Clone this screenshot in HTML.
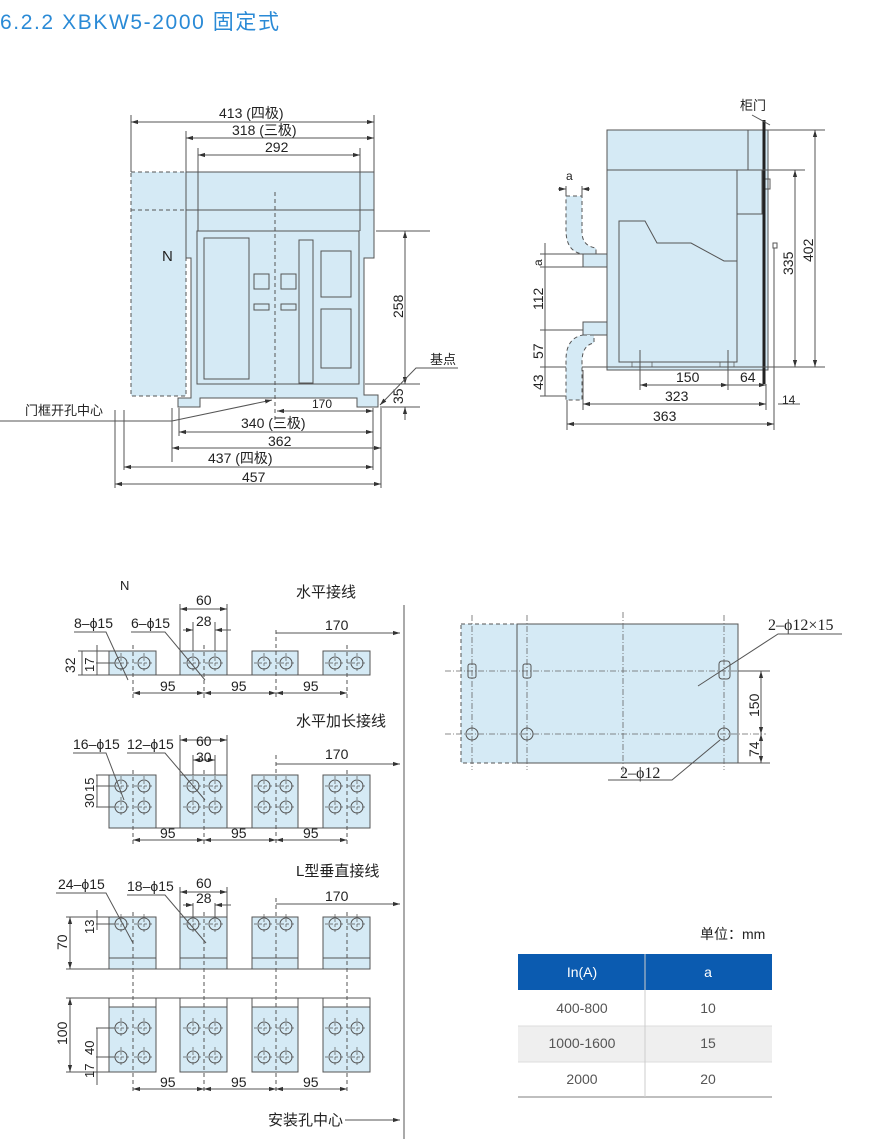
<!DOCTYPE html>
<html><head><meta charset="utf-8"><style>
body{margin:0;background:#fff;}
svg{display:block;font-family:"Liberation Sans","Noto Sans CJK SC",sans-serif;}
.l{stroke:#555;stroke-width:1;fill:none}
.f{fill:#d5eaf5;stroke:#555;stroke-width:1}
.d{stroke:#555;stroke-width:1;fill:none;stroke-dasharray:4 3}
.c{stroke:#666;stroke-width:.8;fill:none;stroke-dasharray:6 2 1 2}
text{fill:#222;font-size:14px}
</style></head><body>
<svg width="882" height="1139" viewBox="0 0 882 1139">
<defs>
<marker id="a" viewBox="0 0 10 10" refX="10" refY="5" markerWidth="7" markerHeight="7" orient="auto-start-reverse"><path d="M0,2 L10,5 L0,8z" fill="#333"/></marker>
<g id="h"><circle r="6" fill="none" stroke="#555"/><line x1="-10" x2="10" y1="0" y2="0" stroke="#555" stroke-width=".7" stroke-dasharray="3 2"/><line y1="-10" y2="10" x1="0" x2="0" stroke="#555" stroke-width=".7" stroke-dasharray="3 2"/></g>
</defs>
<text x="0" y="29" style="font-size:21px;fill:#2a8ad6;letter-spacing:1.6px">6.2.2 XBKW5-2000 固定式</text>

<!-- FRONT VIEW -->
<path class="f" d="M131,172 H186 V396 H131 Z" style="stroke-dasharray:4 3"/>
<path class="f" d="M186,172 H374 V258 H364 V395 H378 V407 H357 V398 H200 V407 H178 V398 H191 V258 H186 Z"/>
<line class="d" x1="131" y1="210" x2="186" y2="210"/>
<line class="l" x1="186" y1="210" x2="374" y2="210"/>
<rect class="l" x="197" y="231" width="162" height="153"/>
<rect class="l" x="204" y="238" width="45" height="141"/>
<rect class="l" x="254" y="274" width="15" height="15"/><rect class="l" x="281" y="274" width="15" height="15"/>
<rect class="l" x="254" y="304" width="15" height="6"/><rect class="l" x="281" y="304" width="15" height="6"/>
<rect class="l" x="299" y="240" width="14" height="143"/>
<rect class="l" x="321" y="251" width="30" height="46"/><rect class="l" x="321" y="309" width="30" height="59"/>
<line class="d" x1="275" y1="192" x2="275" y2="420"/>
<text x="162" y="261" style="font-size:15px">N</text>
<g class="l"><line x1="131" y1="115" x2="131" y2="172"/><line x1="186" y1="131" x2="186" y2="172"/><line x1="198" y1="148" x2="198" y2="231"/><line x1="360" y1="148" x2="360" y2="231"/><line x1="374" y1="115" x2="374" y2="172"/></g>
<line class="l" x1="131" y1="122" x2="374" y2="122" marker-start="url(#a)" marker-end="url(#a)"/>
<line class="l" x1="186" y1="138" x2="374" y2="138" marker-start="url(#a)" marker-end="url(#a)"/>
<line class="l" x1="198" y1="155" x2="360" y2="155" marker-start="url(#a)" marker-end="url(#a)"/>
<text x="219" y="118">413 (四极)</text><text x="232" y="135">318 (三极)</text><text x="265" y="152">292</text>
<line class="l" x1="376" y1="231" x2="430" y2="231"/><line class="l" x1="365" y1="384" x2="420" y2="384"/><line class="l" x1="380" y1="407" x2="420" y2="407"/>
<line class="l" x1="405" y1="231" x2="405" y2="384" marker-start="url(#a)" marker-end="url(#a)"/>
<line class="l" x1="405" y1="372" x2="405" y2="384" marker-end="url(#a)"/><line class="l" x1="405" y1="420" x2="405" y2="407" marker-end="url(#a)"/>
<text transform="translate(403,318) rotate(-90)">258</text>
<text transform="translate(403,404) rotate(-90)">35</text>
<text x="430" y="364" style="font-size:13px">基点</text>
<polyline class="l" points="458,368 416,368 380,405" marker-end="url(#a)"/>
<g class="l"><line x1="115" y1="410" x2="115" y2="488"/><line x1="124" y1="410" x2="124" y2="470"/><line x1="172" y1="408" x2="172" y2="462"/><line x1="179" y1="408" x2="179" y2="436"/><line x1="373" y1="408" x2="373" y2="470"/><line x1="381" y1="408" x2="381" y2="488"/></g>
<line class="l" x1="277" y1="411" x2="373" y2="411" marker-start="url(#a)" marker-end="url(#a)"/>
<line class="l" x1="179" y1="432" x2="373" y2="432" marker-start="url(#a)" marker-end="url(#a)"/>
<line class="l" x1="172" y1="448" x2="381" y2="448" marker-start="url(#a)" marker-end="url(#a)"/>
<line class="l" x1="124" y1="467" x2="373" y2="467" marker-start="url(#a)" marker-end="url(#a)"/>
<line class="l" x1="115" y1="484" x2="381" y2="484" marker-start="url(#a)" marker-end="url(#a)"/>
<text x="312" y="408" style="font-size:12px">170</text>
<text x="241" y="428">340 (三极)</text><text x="268" y="446">362</text><text x="208" y="463">437 (四极)</text><text x="242" y="482">457</text>
<text x="25" y="415" style="font-size:13px">门框开孔中心</text>
<polyline class="l" points="0,421 172,421 272,400" marker-end="url(#a)"/>

<!-- SIDE VIEW -->
<rect class="f" x="607" y="130" width="161" height="240"/>
<line class="l" x1="607" y1="170" x2="768" y2="170"/><line class="l" x1="748" y1="130" x2="748" y2="170"/>
<rect class="l" x="737" y="170" width="25" height="44"/>
<rect class="l" x="762" y="179" width="8" height="10"/>
<path class="l" d="M619,362 V221 H645 L657,243 H691 L724,261 H737 V362 Z"/>
<line class="l" x1="737" y1="214" x2="737" y2="362"/>
<line x1="764" y1="120" x2="764" y2="384" stroke="#222" stroke-width="3"/>
<line class="l" x1="752" y1="115" x2="770" y2="125"/>
<text x="740" y="110" style="font-size:13px">柜门</text>
<rect class="l" x="773" y="243" width="4" height="5"/>
<line class="l" x1="774" y1="248" x2="774" y2="430"/>
<line class="l" x1="768" y1="130" x2="825" y2="130"/><line class="l" x1="762" y1="170" x2="805" y2="170"/><line class="l" x1="540" y1="367" x2="825" y2="367"/>
<line class="l" x1="815" y1="130" x2="815" y2="367" marker-start="url(#a)" marker-end="url(#a)"/>
<line class="l" x1="795" y1="170" x2="795" y2="367" marker-start="url(#a)" marker-end="url(#a)"/>
<text transform="translate(813,262) rotate(-90)">402</text><text transform="translate(793,275) rotate(-90)">335</text>
<path class="f" d="M566,196 H582 V232 Q582,246 596,248 V254 H583 Q566,252 566,230 Z" style="stroke-dasharray:4 3"/>
<rect class="f" x="583" y="254" width="24" height="13"/>
<rect class="f" x="583" y="322" width="24" height="13"/>
<path class="f" d="M583,335 H594 V343 Q582,345 582,362 V400 H566 V360 Q566,338 583,335 Z" style="stroke-dasharray:4 3"/>
<line class="l" x1="558" y1="189" x2="566" y2="189" marker-end="url(#a)"/><line class="l" x1="590" y1="189" x2="582" y2="189" marker-end="url(#a)"/>
<line class="l" x1="566" y1="186" x2="566" y2="196"/><line class="l" x1="582" y1="186" x2="582" y2="196"/>
<text x="566" y="180" style="font-size:12px">a</text>
<g class="l"><line x1="540" y1="254" x2="583" y2="254"/><line x1="540" y1="267" x2="583" y2="267"/><line x1="540" y1="330" x2="583" y2="330"/><line x1="540" y1="396" x2="566" y2="396"/></g>
<line class="l" x1="545" y1="243" x2="545" y2="396"/>
<text transform="translate(542,266) rotate(-90)" style="font-size:12px">a</text>
<text transform="translate(543,310) rotate(-90)">112</text><text transform="translate(543,359) rotate(-90)">57</text><text transform="translate(543,390) rotate(-90)">43</text>
<g class="l"><line x1="640" y1="350" x2="640" y2="390"/><line x1="728" y1="350" x2="728" y2="390"/><line x1="583" y1="370" x2="583" y2="410"/><line x1="567" y1="400" x2="567" y2="430"/><line x1="766" y1="384" x2="766" y2="410"/></g>
<rect x="632" y="362" width="20" height="5" fill="none" stroke="#555" stroke-width=".7"/><rect x="720" y="362" width="14" height="5" fill="none" stroke="#555" stroke-width=".7"/>
<line class="l" x1="640" y1="385" x2="728" y2="385" marker-start="url(#a)" marker-end="url(#a)"/>
<line class="l" x1="728" y1="385" x2="766" y2="385" marker-end="url(#a)"/>
<line class="l" x1="583" y1="404" x2="766" y2="404" marker-start="url(#a)" marker-end="url(#a)"/>
<line class="l" x1="567" y1="424" x2="774" y2="424" marker-start="url(#a)" marker-end="url(#a)"/>
<line class="l" x1="778" y1="404" x2="800" y2="404"/>
<text x="676" y="382">150</text><text x="740" y="382">64</text><text x="665" y="401">323</text><text x="653" y="421">363</text><text x="782" y="404" style="font-size:12px">14</text>

<line class="l" x1="404" y1="605" x2="404" y2="1139"/>

<!-- Section 1 -->
<text x="120" y="590" style="font-size:13px">N</text>
<text x="296" y="597" style="font-size:15px">水平接线</text>
<path class="f" d="M109,651 H156 V675 H109 Z"/><path class="f" d="M180,651 H227 V675 H180 Z"/><path class="f" d="M252,651 H298 V675 H252 Z"/><path class="f" d="M323,651 H370 V675 H323 Z"/>
<line class="l" x1="95" y1="675" x2="370" y2="675"/>
<use href="#h" x="121" y="663"/><use href="#h" x="144" y="663"/><use href="#h" x="193" y="663"/><use href="#h" x="215" y="663"/><use href="#h" x="264" y="663"/><use href="#h" x="286" y="663"/><use href="#h" x="335" y="663"/><use href="#h" x="357" y="663"/>
<g class="d"><line x1="133" y1="645" x2="133" y2="700"/><line x1="204" y1="645" x2="204" y2="700"/><line x1="276" y1="630" x2="276" y2="700"/><line x1="347" y1="645" x2="347" y2="700"/></g>
<line class="l" x1="133" y1="693" x2="204" y2="693" marker-start="url(#a)" marker-end="url(#a)"/><line class="l" x1="204" y1="693" x2="276" y2="693" marker-start="url(#a)" marker-end="url(#a)"/><line class="l" x1="276" y1="693" x2="347" y2="693" marker-start="url(#a)" marker-end="url(#a)"/>
<text x="160" y="691">95</text><text x="231" y="691">95</text><text x="303" y="691">95</text>
<line class="l" x1="276" y1="633" x2="400" y2="633" marker-end="url(#a)"/><text x="325" y="630">170</text>
<g class="l"><line x1="180" y1="604" x2="180" y2="651"/><line x1="227" y1="604" x2="227" y2="651"/><line x1="193" y1="622" x2="193" y2="651"/><line x1="215" y1="622" x2="215" y2="651"/></g>
<line class="l" x1="180" y1="609" x2="227" y2="609" marker-start="url(#a)" marker-end="url(#a)"/>
<line class="l" x1="183" y1="630" x2="193" y2="630" marker-end="url(#a)"/><line class="l" x1="231" y1="630" x2="215" y2="630" marker-end="url(#a)"/>
<text x="196" y="605">60</text><text x="196" y="626">28</text>
<text x="74" y="628">8–ϕ15</text><text x="131" y="628">6–ϕ15</text>
<polyline class="l" points="74,632 106,632 128,680"/><polyline class="l" points="131,632 165,632 205,680"/>
<g class="l"><line x1="78" y1="651" x2="109" y2="651"/><line x1="78" y1="675" x2="109" y2="675"/><line x1="96" y1="663" x2="115" y2="663"/></g>
<line class="l" x1="82" y1="651" x2="82" y2="675"/><line class="l" x1="97" y1="645" x2="97" y2="675"/>
<text transform="translate(75,673) rotate(-90)">32</text><text transform="translate(94,672) rotate(-90)" style="font-size:13px">17</text>

<!-- Section 2 -->
<text x="296" y="726" style="font-size:15px">水平加长接线</text>
<path class="f" d="M109,775 H156 V828 H109 Z"/><path class="f" d="M180,775 H227 V828 H180 Z"/><path class="f" d="M252,775 H298 V828 H252 Z"/><path class="f" d="M323,775 H370 V828 H323 Z"/>
<line class="l" x1="109" y1="828" x2="370" y2="828"/>
<use href="#h" x="121" y="786"/><use href="#h" x="144" y="786"/><use href="#h" x="193" y="786"/><use href="#h" x="215" y="786"/><use href="#h" x="264" y="786"/><use href="#h" x="286" y="786"/><use href="#h" x="335" y="786"/><use href="#h" x="357" y="786"/>
<use href="#h" x="121" y="807"/><use href="#h" x="144" y="807"/><use href="#h" x="193" y="807"/><use href="#h" x="215" y="807"/><use href="#h" x="264" y="807"/><use href="#h" x="286" y="807"/><use href="#h" x="335" y="807"/><use href="#h" x="357" y="807"/>
<g class="d"><line x1="133" y1="770" x2="133" y2="845"/><line x1="204" y1="770" x2="204" y2="845"/><line x1="276" y1="755" x2="276" y2="845"/><line x1="347" y1="770" x2="347" y2="845"/></g>
<line class="l" x1="133" y1="840" x2="204" y2="840" marker-start="url(#a)" marker-end="url(#a)"/><line class="l" x1="204" y1="840" x2="276" y2="840" marker-start="url(#a)" marker-end="url(#a)"/><line class="l" x1="276" y1="840" x2="347" y2="840" marker-start="url(#a)" marker-end="url(#a)"/>
<text x="160" y="838">95</text><text x="231" y="838">95</text><text x="303" y="838">95</text>
<line class="l" x1="276" y1="764" x2="400" y2="764" marker-end="url(#a)"/><text x="325" y="759">170</text>
<g class="l"><line x1="180" y1="735" x2="180" y2="775"/><line x1="227" y1="735" x2="227" y2="775"/><line x1="193" y1="755" x2="193" y2="775"/><line x1="215" y1="755" x2="215" y2="775"/></g>
<line class="l" x1="180" y1="740" x2="227" y2="740" marker-start="url(#a)" marker-end="url(#a)"/>
<line class="l" x1="193" y1="760" x2="215" y2="760" marker-start="url(#a)" marker-end="url(#a)"/>
<text x="196" y="746">60</text><text x="196" y="762">30</text>
<text x="73" y="749">16–ϕ15</text><text x="127" y="749">12–ϕ15</text>
<polyline class="l" points="73,753 106,753 124,800"/><polyline class="l" points="127,753 165,753 205,800"/>
<g class="l"><line x1="96" y1="775" x2="109" y2="775"/><line x1="96" y1="786" x2="115" y2="786"/><line x1="96" y1="807" x2="115" y2="807"/></g>
<line class="l" x1="97" y1="775" x2="97" y2="807"/>
<text transform="translate(94,792) rotate(-90)" style="font-size:13px">15</text><text transform="translate(94,808) rotate(-90)" style="font-size:13px">30</text>

<!-- Section 3 -->
<text x="296" y="876" style="font-size:15px">L型垂直接线</text>
<path class="f" d="M109,917 H156 V969 H109 Z"/><path class="f" d="M180,917 H227 V969 H180 Z"/><path class="f" d="M252,917 H298 V969 H252 Z"/><path class="f" d="M323,917 H370 V969 H323 Z"/>
<g class="l"><line x1="109" y1="958" x2="156" y2="958"/><line x1="180" y1="958" x2="227" y2="958"/><line x1="252" y1="958" x2="298" y2="958"/><line x1="323" y1="958" x2="370" y2="958"/><line x1="66" y1="969" x2="370" y2="969"/></g>
<use href="#h" x="121" y="924"/><use href="#h" x="144" y="924"/><use href="#h" x="193" y="924"/><use href="#h" x="215" y="924"/><use href="#h" x="264" y="924"/><use href="#h" x="286" y="924"/><use href="#h" x="335" y="924"/><use href="#h" x="357" y="924"/>
<path class="f" d="M109,998 H156 V1072 H109 Z"/><path class="f" d="M180,998 H227 V1072 H180 Z"/><path class="f" d="M252,998 H298 V1072 H252 Z"/><path class="f" d="M323,998 H370 V1072 H323 Z"/>
<g fill="#fff" stroke="#555"><rect x="109" y="998" width="47" height="9"/><rect x="180" y="998" width="47" height="9"/><rect x="252" y="998" width="46" height="9"/><rect x="323" y="998" width="47" height="9"/></g>
<line class="l" x1="66" y1="998" x2="370" y2="998"/><line class="l" x1="66" y1="1072" x2="109" y2="1072"/>
<use href="#h" x="121" y="1028"/><use href="#h" x="144" y="1028"/><use href="#h" x="193" y="1028"/><use href="#h" x="215" y="1028"/><use href="#h" x="264" y="1028"/><use href="#h" x="286" y="1028"/><use href="#h" x="335" y="1028"/><use href="#h" x="357" y="1028"/>
<use href="#h" x="121" y="1057"/><use href="#h" x="144" y="1057"/><use href="#h" x="193" y="1057"/><use href="#h" x="215" y="1057"/><use href="#h" x="264" y="1057"/><use href="#h" x="286" y="1057"/><use href="#h" x="335" y="1057"/><use href="#h" x="357" y="1057"/>
<g class="d"><line x1="133" y1="912" x2="133" y2="1092"/><line x1="204" y1="912" x2="204" y2="1092"/><line x1="276" y1="898" x2="276" y2="1092"/><line x1="347" y1="912" x2="347" y2="1092"/></g>
<line class="l" x1="133" y1="1089" x2="204" y2="1089" marker-start="url(#a)" marker-end="url(#a)"/><line class="l" x1="204" y1="1089" x2="276" y2="1089" marker-start="url(#a)" marker-end="url(#a)"/><line class="l" x1="276" y1="1089" x2="347" y2="1089" marker-start="url(#a)" marker-end="url(#a)"/>
<text x="160" y="1087">95</text><text x="231" y="1087">95</text><text x="303" y="1087">95</text>
<line class="l" x1="276" y1="904" x2="400" y2="904" marker-end="url(#a)"/><text x="325" y="901">170</text>
<g class="l"><line x1="180" y1="887" x2="180" y2="917"/><line x1="227" y1="887" x2="227" y2="917"/><line x1="193" y1="903" x2="193" y2="917"/><line x1="215" y1="903" x2="215" y2="917"/></g>
<line class="l" x1="180" y1="892" x2="227" y2="892" marker-start="url(#a)" marker-end="url(#a)"/>
<line class="l" x1="183" y1="905" x2="193" y2="905" marker-end="url(#a)"/><line class="l" x1="231" y1="905" x2="215" y2="905" marker-end="url(#a)"/>
<text x="196" y="888">60</text><text x="196" y="903">28</text>
<text x="58" y="889">24–ϕ15</text><text x="127" y="891">18–ϕ15</text>
<polyline class="l" points="56,893 106,893 133,943"/><polyline class="l" points="127,895 165,895 206,943"/>
<line class="l" x1="70" y1="917" x2="70" y2="969" marker-start="url(#a)" marker-end="url(#a)"/><line class="l" x1="66" y1="917" x2="109" y2="917"/>
<line class="l" x1="97" y1="910" x2="97" y2="930"/><line class="l" x1="96" y1="924" x2="115" y2="924"/>
<text transform="translate(67,950) rotate(-90)">70</text><text transform="translate(94,934) rotate(-90)" style="font-size:13px">13</text>
<line class="l" x1="70" y1="998" x2="70" y2="1072" marker-start="url(#a)" marker-end="url(#a)"/>
<line class="l" x1="97" y1="1028" x2="97" y2="1085"/><line class="l" x1="96" y1="1028" x2="115" y2="1028"/><line class="l" x1="96" y1="1057" x2="115" y2="1057"/>
<text transform="translate(67,1045) rotate(-90)">100</text><text transform="translate(94,1055) rotate(-90)" style="font-size:13px">40</text><text transform="translate(94,1078) rotate(-90)" style="font-size:13px">17</text>
<text x="268" y="1125" style="font-size:15px">安装孔中心</text>
<line class="l" x1="345" y1="1120" x2="400" y2="1120" marker-end="url(#a)"/>

<!-- Right plate -->
<rect x="461" y="624" width="56" height="139" fill="#d5eaf5" stroke="#555" stroke-dasharray="4 3"/>
<rect class="f" x="517" y="624" width="221" height="139"/>
<g class="c"><line x1="445" y1="671" x2="766" y2="671"/><line x1="445" y1="734" x2="766" y2="734"/><line x1="472" y1="615" x2="472" y2="770"/><line x1="527" y1="615" x2="527" y2="770"/><line x1="623" y1="612" x2="623" y2="775"/><line x1="724" y1="615" x2="724" y2="770"/></g>
<rect class="l" x="468" y="664" width="8" height="14" rx="2" fill="#d5eaf5"/><rect class="l" x="523" y="664" width="8" height="14" rx="2" fill="#d5eaf5"/><rect class="l" x="719" y="661" width="11" height="18" rx="3" fill="#d5eaf5"/>
<circle class="l" cx="472" cy="734" r="6" fill="#d5eaf5"/><circle class="l" cx="527" cy="734" r="6" fill="#d5eaf5"/><circle class="l" cx="724" cy="734" r="6" fill="#d5eaf5"/>
<line class="l" x1="738" y1="671" x2="770" y2="671"/><line class="l" x1="738" y1="763" x2="770" y2="763"/>
<line class="l" x1="761" y1="671" x2="761" y2="734" marker-start="url(#a)" marker-end="url(#a)"/><line class="l" x1="761" y1="734" x2="761" y2="763" marker-start="url(#a)" marker-end="url(#a)"/>
<text transform="translate(759,717) rotate(-90)">150</text><text transform="translate(759,757) rotate(-90)">74</text>
<text x="768" y="630" style="font-family:'Liberation Serif','Noto Serif CJK SC',serif;font-size:16px">2–ϕ12×15</text>
<polyline class="l" points="842,634 778,634 698,686"/>
<text x="620" y="778" style="font-family:'Liberation Serif','Noto Serif CJK SC',serif;font-size:16px">2–ϕ12</text>
<polyline class="l" points="608,780 672,780 720,740"/>

<!-- Table -->
<text x="700" y="939" style="font-size:14px">单位：mm</text>
<rect x="518" y="954" width="254" height="36" fill="#0b5bb0"/>
<rect x="518" y="1026" width="254" height="36" fill="#efefef"/>
<line x1="518" y1="1026" x2="772" y2="1026" stroke="#ddd"/><line x1="518" y1="1062" x2="772" y2="1062" stroke="#ddd"/>
<line x1="518" y1="1097" x2="772" y2="1097" stroke="#aaa" stroke-width="1.5"/>
<line x1="645" y1="954" x2="645" y2="1097" stroke="#ccc"/>
<text x="582" y="977" text-anchor="middle" style="fill:#fff;font-size:14px">In(A)</text>
<text x="708" y="977" text-anchor="middle" style="fill:#fff;font-size:14px">a</text>
<text x="582" y="1013" text-anchor="middle" style="fill:#555;font-size:14px">400-800</text><text x="708" y="1013" text-anchor="middle" style="fill:#555;font-size:14px">10</text>
<text x="582" y="1048" text-anchor="middle" style="fill:#555;font-size:14px">1000-1600</text><text x="708" y="1048" text-anchor="middle" style="fill:#555;font-size:14px">15</text>
<text x="582" y="1084" text-anchor="middle" style="fill:#555;font-size:14px">2000</text><text x="708" y="1084" text-anchor="middle" style="fill:#555;font-size:14px">20</text>
</svg>
</body></html>
